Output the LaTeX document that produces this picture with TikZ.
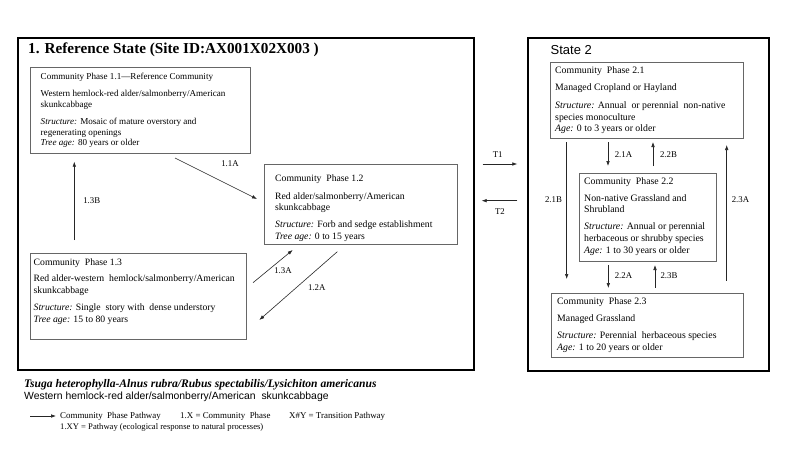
\documentclass[tikz,border=0pt]{standalone}
\usepackage{fontspec}
\setmainfont{Liberation Serif}
\newfontfamily\arialf{Liberation Sans}
\usetikzlibrary{arrows.meta}
\tikzset{
  outerbox/.style={draw=black, line width=2pt, anchor=north west, inner sep=0pt},
  phasebox/.style={draw=black!60, line width=0.8pt, anchor=north west, inner sep=0pt},
  txt/.style={anchor=north west, inner sep=0pt, align=left},
  arr/.style={-{Latex[length=5pt,width=3.6pt]}, line width=0.6pt, black!85},
  lbl/.style={font=\fontsize{8.8}{10}\selectfont, inner sep=0pt},
  legend/.style={anchor=west, inner sep=0pt, font=\fontsize{8.9}{10}\selectfont},
}
\begin{document}
\begin{tikzpicture}[x=1pt,y=-1pt]
\useasboundingbox (0,0) rectangle (800,450);
\fill[white] (0,0) rectangle (800,450);
% outer state boxes
\node[outerbox, minimum width=456.5pt, minimum height=331.5pt] (s1) at (16.5,37) {};
\node[outerbox, minimum width=241pt, minimum height=332.5pt] (s2) at (527,37) {};
\node[anchor=west, inner sep=0pt, font=\fontsize{15.2}{17}\selectfont\bfseries] (t1) at (28,50) {1. Reference State (Site ID:AX001X02X003 )};
\node[anchor=west, inner sep=0pt, font=\fontsize{13}{15}\selectfont\arialf] (t2) at (550.5,50) {State 2};
% phase boxes state 1
\node[phasebox, minimum width=220pt, minimum height=86pt] (p11) at (29.5,66.5) {};
\node[phasebox, minimum width=193pt, minimum height=80pt] (p12) at (264,164) {};
\node[phasebox, minimum width=216.5pt, minimum height=86.3pt] (p13) at (29.5,252.7) {};
\node[txt, font=\fontsize{9.1}{10.6}\selectfont] (x11) at (40.5,73) {Community Phase 1.1---Reference Community\\[6.6pt]
Western hemlock-red alder/salmonberry/American\\skunkcabbage\\[6.6pt]
\textit{Structure:} Mosaic of mature overstory and\\regenerating openings\\
\textit{Tree age:} 80 years or older};
\node[txt, font=\fontsize{9.7}{11.8}\selectfont] (x12) at (275,174.5) {Community\ \ Phase 1.2\\[5.9pt]
Red alder/salmonberry/American\\skunkcabbage\\[4.5pt]
\textit{Structure:} Forb and sedge establishment\\
\textit{Tree age:} 0 to 15 years};
\node[txt, font=\fontsize{9.7}{11.5}\selectfont] (x13) at (33.5,258.3) {Community\ \ Phase 1.3\\[5.1pt]
Red alder-western\ \ hemlock/salmonberry/American\\skunkcabbage\\[5.8pt]
\textit{Structure:} Single\ \ story with\ \ dense understory\\
\textit{Tree age:} 15 to 80 years};
% phase boxes state 2
\node[phasebox, minimum width=192.7pt, minimum height=76pt] (p21) at (550,61.7) {};
\node[phasebox, minimum width=137.5pt, minimum height=88pt] (p22) at (578.5,172.7) {};
\node[phasebox, minimum width=191.7pt, minimum height=64pt] (p23) at (551,292.7) {};
\node[txt, font=\fontsize{9.8}{11.8}\selectfont] (x21) at (555,66.3) {Community\ \ Phase 2.1\\[5.2pt]
Managed Cropland or Hayland\\[6.2pt]
\textit{Structure:} Annual\ \ or perennial\ \ non-native\\species monoculture\\
\textit{Age:} 0 to 3 years or older};
\node[txt, font=\fontsize{9.8}{11.7}\selectfont] (x22) at (584,177.3) {Community\ \ Phase 2.2\\[5pt]
Non-native Grassland and\\Shrubland\\[5.3pt]
\textit{Structure:} Annual or perennial\\herbaceous or shrubby species\\
\textit{Age:} 1 to 30 years or older};
\node[txt, font=\fontsize{9.8}{12}\selectfont] (x23) at (557,297.3) {Community\ \ Phase 2.3\\[5.6pt]
Managed Grassland\\[4.7pt]
\textit{Structure:} Perennial\ \ herbaceous species\\
\textit{Age:} 1 to 20 years or older};
% arrow end points
\coordinate (a11s) at (175,158);   \coordinate (a11e) at (257,199);
\coordinate (a13bs) at (74.3,240); \coordinate (a13be) at (74.3,161.7);
\coordinate (a13as) at (253,282.7);\coordinate (a13ae) at (292.7,250);
\coordinate (a12s) at (337.3,251.7);\coordinate (a12e) at (259.3,320);
\coordinate (at1s) at (482.7,164); \coordinate (at1e) at (517.3,164);
\coordinate (at2s) at (517.3,200.7);\coordinate (at2e) at (481.7,200.7);
\coordinate (a21as) at (608,142);  \coordinate (a21ae) at (608,166);
\coordinate (a22bs) at (653,166);  \coordinate (a22be) at (653,142);
\coordinate (a21bs) at (566.7,142);\coordinate (a21be) at (566.7,279);
\coordinate (a23as) at (726.7,280.7);\coordinate (a23ae) at (726.7,145);
\coordinate (a22as) at (608.3,265);\coordinate (a22ae) at (608.3,288);
\coordinate (a23bs) at (655,287.7);\coordinate (a23be) at (655,265);
\draw[arr] (a11s) -- (a11e);
\draw[arr] (a13bs) -- (a13be);
\draw[arr] (a13as) -- (a13ae);
\draw[arr] (a12s) -- (a12e);
\draw[arr] (at1s) -- (at1e);
\draw[arr] (at2s) -- (at2e);
\draw[arr] (a21as) -- (a21ae);
\draw[arr] (a22bs) -- (a22be);
\draw[arr] (a21bs) -- (a21be);
\draw[arr] (a23as) -- (a23ae);
\draw[arr] (a22as) -- (a22ae);
\draw[arr] (a23bs) -- (a23be);
% labels
\node[lbl] (l11a) at (230,164) {1.1A};
\node[lbl] (l13b) at (91.7,200.7) {1.3B};
\node[lbl] (l13a) at (283,270.7) {1.3A};
\node[lbl] (l12a) at (316.7,287.3) {1.2A};
\node[lbl] (lt1) at (497.7,155) {T1};
\node[lbl] (lt2) at (500,211.7) {T2};
\node[lbl] (l21a) at (623.5,155) {2.1A};
\node[lbl] (l22b) at (668.5,155) {2.2B};
\node[lbl] (l21b) at (553.5,200) {2.1B};
\node[lbl] (l23a) at (740.5,200) {2.3A};
\node[lbl] (l22a) at (623.5,276) {2.2A};
\node[lbl] (l23b) at (669,276) {2.3B};
% species names
\node[anchor=west, inner sep=0pt, font=\fontsize{11.6}{13}\selectfont\bfseries\itshape] (sp1) at (24,385) {Tsuga heterophylla-Alnus rubra/Rubus spectabilis/Lysichiton americanus};
\node[anchor=west, inner sep=0pt, font=\fontsize{10.4}{12}\selectfont\arialf] (sp2) at (24,397) {Western hemlock-red alder/salmonberry/American\ \ skunkcabbage};
% legend
\coordinate (lgs) at (30,416); \coordinate (lge) at (56,416);
\draw[arr] (lgs) -- (lge);
\node[legend] (lg1) at (60,416) {Community\ \ Phase Pathway};
\node[legend] (lg2) at (180,416) {1.X = Community\ \ Phase};
\node[legend] (lg3) at (289,416) {X\#Y = Transition Pathway};
\node[legend, font=\fontsize{8.6}{10}\selectfont] (lg4) at (60,427) {1.XY = Pathway (ecological response to natural processes)};
\end{tikzpicture}
\end{document}
